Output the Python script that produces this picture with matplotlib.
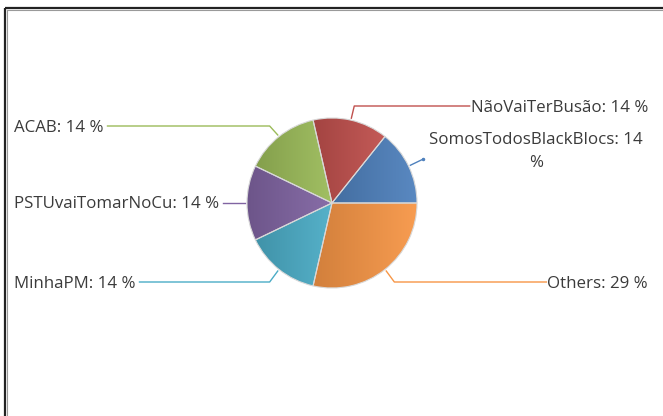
# Pie chart of hashtag shares, with leader-line labels
import numpy as np
import matplotlib
matplotlib.use("Agg")
import matplotlib.pyplot as plt
from matplotlib.colors import to_rgb

# Data (counter-clockwise from 3 o'clock)
labels = ["SomosTodosBlackBlocs", "NãoVaiTerBusão", "ACAB",
          "PSTUvaiTomarNoCu", "MinhaPM", "Others"]
values = [1, 1, 1, 1, 1, 2]
colors = ["#4f81bd", "#c0504d", "#9bbb59", "#8064a2", "#4bacc6", "#f79646"]

W, H = 663, 416
fig = plt.figure(figsize=(W / 100, H / 100), dpi=100)
ax = fig.add_axes([0, 0, 1, 1])

cx, cy, r = 332, 213, 85
wedges, _ = ax.pie(values, startangle=0, counterclock=True, center=(cx, cy),
                   radius=r, colors=colors, frame=True,
                   wedgeprops=dict(edgecolor="#d8d8d8", linewidth=0.8))
ax.set_xlim(0, W)
ax.set_ylim(0, H)
ax.axis("off")

# Horizontal gradient fill inside each slice: darker left, lighter right
for w, c in zip(wedges, colors):
    base = np.array(to_rgb(c))
    dark = base * 0.85
    light = np.clip(base + (1 - base) * 0.06, 0, 1)
    t = np.linspace(0, 1, 256)[:, None]
    grad = (dark * (1 - t) + light * t)[None, :, :]
    bb = w.get_path().get_extents()
    im = ax.imshow(grad, extent=(bb.x0, bb.x1, bb.y0, bb.y1), aspect="auto",
                   interpolation="bilinear", zorder=w.get_zorder() + 0.1)
    im.set_clip_path(w)
    w.set_zorder(w.get_zorder() + 0.2)
    w.set_facecolor("none")

# Labels
pct = [v / sum(values) * 100 for v in values]
txt = [f"{l}: {p:.0f} %" for l, p in zip(labels, pct)]
font = dict(family=["Open Sans", "DejaVu Sans"], size=12.2, color="#3b3b3b")
fig.canvas.draw()
rend = fig.canvas.get_renderer()
inv = ax.transData.inverted()

def text_extent(t):
    bb = t.get_window_extent(rend)
    (x0, y0), (x1, y1) = inv.transform([(bb.x0, bb.y0), (bb.x1, bb.y1)])
    return x0, x1

mids = [(w.theta1 + w.theta2) / 2 for w in wedges]

def pt(ang, rad):
    a = np.deg2rad(ang)
    return cx + rad * np.cos(a), cy + rad * np.sin(a)

# side: +1 text right aligned at right margin, -1 text left aligned at left margin
layout = {1: (1, H - 106), 2: (-1, H - 126), 3: (-1, cy),
          4: (-1, H - 282), 5: (1, H - 282)}
for i, (side, ty) in layout.items():
    col = colors[i]
    x0, y0 = pt(mids[i], 87)
    x1, y1 = pt(mids[i], 100)
    if side == 1:
        t = ax.text(648, ty - 1.5, txt[i], ha="right", va="center", **font)
        tx0, _ = text_extent(t)
        xe = tx0 - 1
    else:
        t = ax.text(14, ty - 1.5, txt[i], ha="left", va="center", **font)
        _, tx1 = text_extent(t)
        xe = tx1 + 4
    ax.plot([x0, x1, xe], [y0, ty, ty], color=col, lw=1, zorder=1)

# SomosTodosBlackBlocs: wrapped label, short leader line
x0, y0 = pt(mids[0], 87)
x1, y1 = pt(mids[0], 101)
ax.plot([x0, x1], [y0, y1], color=colors[0], lw=1, zorder=1)
ax.plot([x1], [y1], "o", color=colors[0], ms=1.5, zorder=1)
ax.text(536, H - 139.5, f"{labels[0]}: {pct[0]:.0f}", ha="center", va="center", **font)
ax.text(536, H - 163, "%", ha="center", va="center", **font)

# Frame on left and top edges
ax.plot([5, 5], [0, H - 8], color="#222222", lw=1.6, solid_capstyle="butt")
ax.plot([5, W], [H - 8, H - 8], color="#222222", lw=1.6, solid_capstyle="butt")
ax.plot([6.8, 6.8], [0, H - 9.8], color="#9a9a9a", lw=0.8)
ax.plot([6.8, W], [H - 9.8, H - 9.8], color="#9a9a9a", lw=0.8)

fig.savefig("out.png", dpi=100, facecolor="white")
